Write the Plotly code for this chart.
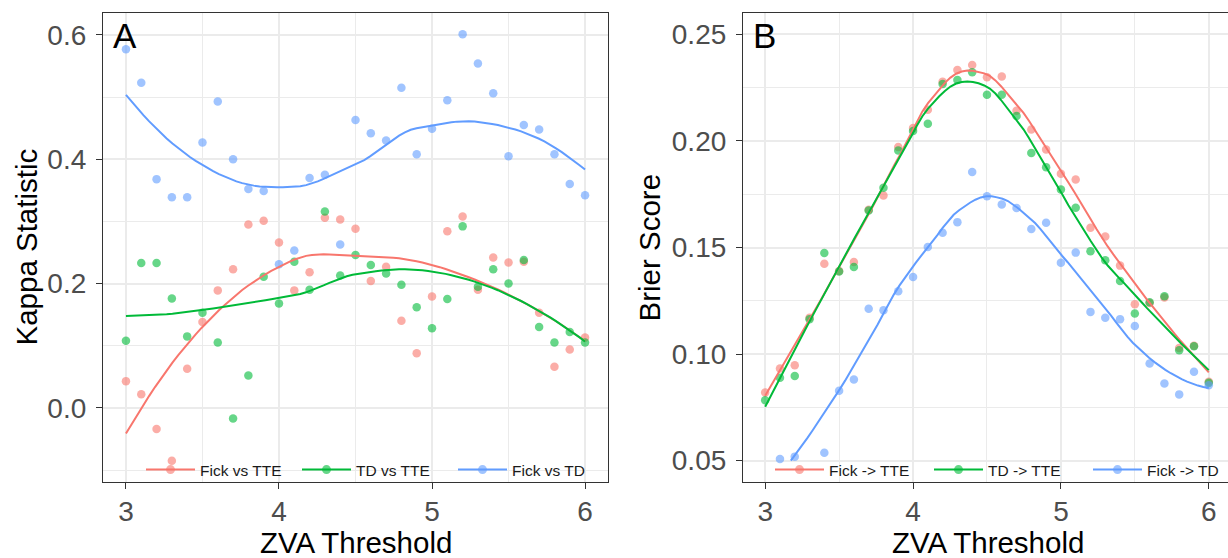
import numpy as np
import plotly.graph_objects as go

# ---------------- data ----------------
zva_threshold = [3.0, 3.1, 3.2, 3.3, 3.4, 3.5, 3.6, 3.7, 3.8, 3.9, 4.0,
                 4.1, 4.2, 4.3, 4.4, 4.5, 4.6, 4.7, 4.8, 4.9, 5.0,
                 5.1, 5.2, 5.3, 5.4, 5.5, 5.6, 5.7, 5.8, 5.9, 6.0]

# Panel A: Kappa statistic
kappa_fick_vs_tte = [0.043, 0.022, -0.034, -0.085, 0.063, 0.138, 0.189, 0.223, 0.295, 0.301, 0.266,
                     0.189, 0.218, 0.306, 0.303, 0.288, 0.204, 0.227, 0.140, 0.088, 0.179,
                     0.284, 0.308, 0.190, 0.242, 0.234, 0.235, 0.153, 0.066, 0.094, 0.113]
kappa_td_vs_tte = [0.108, 0.233, 0.233, 0.176, 0.115, 0.153, 0.105, -0.017, 0.052, 0.211, 0.168,
                   0.235, 0.190, 0.316, 0.213, 0.246, 0.230, 0.216, 0.198, 0.162, 0.128,
                   0.175, 0.292, 0.195, 0.223, 0.200, 0.238, 0.130, 0.105, 0.122, 0.105]
kappa_fick_vs_td = [0.577, 0.523, 0.368, 0.339, 0.339, 0.427, 0.493, 0.400, 0.352, 0.349, 0.231,
                    0.253, 0.370, 0.375, 0.263, 0.463, 0.442, 0.430, 0.515, 0.408, 0.449,
                    0.495, 0.601, 0.554, 0.506, 0.405, 0.455, 0.448, 0.408, 0.360, 0.342]

# Panel B: Brier score (None = below the 0.05 axis limit, dropped in the original)
brier_fick_to_tte = [0.0820, 0.0932, 0.0948, 0.1171, 0.1424, 0.1390, 0.1432, 0.1677, 0.1744, 0.1971, 0.2060,
                     0.2146, 0.2278, 0.2333, 0.2356, 0.2299, 0.2302, 0.2142, 0.2053, 0.1960, 0.1846,
                     0.1819, 0.1593, 0.1552, 0.1415, 0.1234, 0.1240, 0.1265, 0.1029, 0.1039, 0.0870]
brier_td_to_tte = [0.0784, 0.0889, 0.0897, 0.1164, 0.1474, 0.1387, 0.1409, 0.1674, 0.1780, 0.1955, 0.2046,
                   0.2080, 0.2267, 0.2286, 0.2322, 0.2217, 0.2217, 0.2117, 0.1943, 0.1877, 0.1772,
                   0.1687, 0.1482, 0.1440, 0.1343, 0.1190, 0.1243, 0.1271, 0.1018, 0.1037, 0.0865]
brier_fick_to_td = [None, 0.0508, 0.0519, None, 0.0537, 0.0828, 0.0881, 0.1213, 0.1206, 0.1295, 0.1362,
                    0.1502, 0.1569, 0.1619, 0.1854, 0.1740, 0.1702, 0.1685, 0.1587, 0.1616, 0.1429,
                    0.1476, 0.1198, 0.1171, 0.1164, 0.1132, 0.0956, 0.0862, 0.0811, 0.0917, 0.0854]

names_a = ["Fick vs TTE", "TD vs TTE", "Fick vs TD"]
names_b = ["Fick -> TTE", "TD -> TTE", "Fick -> TD"]
colors = ["#F8766D", "#00BA38", "#619CFF"]

kappa_ticks = [0.0, 0.2, 0.4, 0.6]
kappa_minor = [-0.1, 0.1, 0.3, 0.5]
brier_ticks = [0.05, 0.10, 0.15, 0.20, 0.25]
brier_minor = [0.075, 0.125, 0.175, 0.225]
brier_limits = [0.05, 0.25]
x_ticks = [3, 4, 5, 6]
x_minor = [3.5, 4.5, 5.5]

SPAN_A = 1.0
SPAN_B = 0.5


# ---------------- loess (local quadratic, tricube, kd-tree + cubic Hermite interpolation) ----------------
def _local_fit(xv, yv, v, q, span):
    d = np.abs(xv - v)
    h = np.sort(d)[min(q, len(d)) - 1] * max(1.0, span)
    u = d / h
    w = np.where(u < 1, (1 - u ** 3) ** 3, 0.0)
    X = np.column_stack([np.ones_like(xv), xv - v, (xv - v) ** 2])
    A = X.T @ (X * w[:, None])
    b = X.T @ (w * yv)
    coef = np.linalg.solve(A, b)
    return coef[0], coef[1]


def _kd_vertices(xs, fc):
    n = len(xs)
    lo0, hi0 = xs.min(), xs.max()
    mu = 0.005 * max(hi0 - lo0, 1e-10 * max(abs(lo0), abs(hi0)) + 1e-30)
    lo, hi = lo0 - mu, hi0 + mu
    verts = {lo, hi}

    def split(l, u, a, b):
        if u - l + 1 <= fc:
            return
        m = (l + u) // 2
        t = xs[m - 1]
        if t == a or t == b:
            return
        verts.add(t)
        split(l, m, a, t)
        split(m + 1, u, t, b)

    split(1, n, lo, hi)
    return np.array(sorted(verts))


def loess_curve(x, y, span=0.75, n_out=80):
    pairs = [(a, b) for a, b in zip(x, y) if b is not None]
    xv = np.array([p[0] for p in pairs], float)
    yv = np.array([p[1] for p in pairs], float)
    n = len(xv)
    q = int(np.floor(n * min(span, 1.0) + 1e-5))
    fc = int(np.floor(n * span * 0.2))
    verts = _kd_vertices(xv, fc)
    fits = np.array([_local_fit(xv, yv, v, q, span) for v in verts])
    xs = np.linspace(xv.min(), xv.max(), n_out)
    ys = []
    for xx in xs:
        i = int(np.clip(np.searchsorted(verts, xx, side="right") - 1, 0, len(verts) - 2))
        a, b = verts[i], verts[i + 1]
        h = b - a
        t = (xx - a) / h
        phi0 = (1 - t) ** 2 * (1 + 2 * t)
        phi1 = t ** 2 * (3 - 2 * t)
        psi0 = t * (1 - t) ** 2
        psi1 = -t ** 2 * (1 - t)
        ys.append(phi0 * fits[i, 0] + phi1 * fits[i + 1, 0] + (psi0 * fits[i, 1] + psi1 * fits[i + 1, 1]) * h)
    return xs, np.array(ys)


# ---------------- figure ----------------
W, H = 1228, 558
FONT = "Liberation Sans, Arial, sans-serif"


def px(v):
    return v / W


def py(v):
    return 1 - v / H


fig = go.Figure()

series_a = [kappa_fick_vs_tte, kappa_td_vs_tte, kappa_fick_vs_td]
series_b = [brier_fick_to_tte, brier_td_to_tte, brier_fick_to_td]
MSIZE = 8.5

for k in range(3):
    fig.add_trace(go.Scatter(x=zva_threshold, y=series_a[k], mode="markers", showlegend=False,
                             marker=dict(color=colors[k], size=MSIZE, opacity=0.6, line=dict(width=0)),
                             xaxis="x", yaxis="y", hoverinfo="x+y"))
for k in range(3):
    xs, ys = loess_curve(zva_threshold, series_a[k], SPAN_A)
    fig.add_trace(go.Scatter(x=xs, y=ys, mode="lines", showlegend=False,
                             line=dict(color=colors[k], width=2), xaxis="x", yaxis="y"))
    fig.add_trace(go.Scatter(x=[None], y=[None], mode="lines+markers", name=names_a[k],
                             line=dict(color=colors[k], width=2),
                             marker=dict(color=colors[k], size=9, opacity=0.6),
                             xaxis="x", yaxis="y", legend="legend"))

for k in range(3):
    fig.add_trace(go.Scatter(x=zva_threshold, y=series_b[k], mode="markers", showlegend=False,
                             marker=dict(color=colors[k], size=MSIZE, opacity=0.6, line=dict(width=0)),
                             xaxis="x2", yaxis="y2", hoverinfo="x+y"))
for k in range(3):
    xs, ys = loess_curve(zva_threshold, series_b[k], SPAN_B)
    ys_c = [float(v) if brier_limits[0] <= v <= brier_limits[1] else None for v in ys]
    fig.add_trace(go.Scatter(x=xs, y=ys_c, mode="lines", showlegend=False,
                             line=dict(color=colors[k], width=2), xaxis="x2", yaxis="y2"))
    fig.add_trace(go.Scatter(x=[None], y=[None], mode="lines+markers", name=names_b[k],
                             line=dict(color=colors[k], width=2),
                             marker=dict(color=colors[k], size=9, opacity=0.6),
                             xaxis="x2", yaxis="y2", legend="legend2"))

# y range of panel A like ggplot (data range + 5%)
all_a = [v for s in series_a for v in s]
ya_min, ya_max = min(all_a), max(all_a)
pad = 0.05 * (ya_max - ya_min)
ya_range = [ya_min - pad, ya_max + pad]
bpad = 0.05 * (brier_limits[1] - brier_limits[0])
yb_range = [brier_limits[0] - bpad, brier_limits[1] + bpad]

GRID = "#EBEBEB"
AX = "#333333"
TICKFONT = dict(family=FONT, size=28, color="#4D4D4D")

common_x = dict(tickmode="array", tickvals=x_ticks, ticktext=[str(v) for v in x_ticks],
                ticks="outside", ticklen=6, tickwidth=1.2, tickcolor=AX, tickfont=TICKFONT,
                ticklabelstandoff=-2,
                showline=True, linecolor=AX, linewidth=1.2, mirror=True,
                showgrid=True, gridcolor=GRID, gridwidth=1.6, zeroline=False,
                minor=dict(tickmode="array", tickvals=x_minor, showgrid=True, gridcolor=GRID,
                           gridwidth=0.8, ticks=""))

common_y = dict(tickmode="array", ticks="outside", ticklen=6, tickwidth=1.2, tickcolor=AX,
                tickfont=TICKFONT, ticklabelstandoff=4,
                showline=True, linecolor=AX, linewidth=1.2,
                showgrid=True, gridcolor=GRID, gridwidth=1.6, zeroline=False)

LEGFONT = dict(family=FONT, size=15.5, color="#1a1a1a")
TITLEFONT = dict(family=FONT, size=29.5, color="black")

fig.update_layout(
    width=W, height=H, margin=dict(l=0, r=0, t=0, b=0, autoexpand=False),
    paper_bgcolor="white", plot_bgcolor="white",
    font=dict(family=FONT),
    xaxis=dict(domain=[px(103), px(608)], range=[2.85, 6.15], anchor="y", **common_x),
    xaxis2=dict(domain=[px(743), 1.0], range=[2.85, 6.13], anchor="y2", **common_x),
    yaxis=dict(domain=[py(482), py(13)], range=ya_range, anchor="x", mirror=True,
               tickvals=kappa_ticks, ticktext=[f"{v:.1f}" for v in kappa_ticks],
               minor=dict(tickmode="array", tickvals=kappa_minor, showgrid=True, gridcolor=GRID,
                          gridwidth=0.8, ticks=""), **common_y),
    yaxis2=dict(domain=[py(482), py(13)], range=yb_range, anchor="x2", mirror=False,
                tickvals=brier_ticks, ticktext=[f"{v:.2f}" for v in brier_ticks],
                minor=dict(tickmode="array", tickvals=brier_minor, showgrid=True, gridcolor=GRID,
                           gridwidth=0.8, ticks=""), **common_y),
    legend=dict(orientation="h", x=px(141), y=py(470), xanchor="left", yanchor="middle",
                bgcolor="rgba(0,0,0,0)", font=LEGFONT, itemwidth=49,
                entrywidth=92, entrywidthmode="pixels", traceorder="normal"),
    legend2=dict(orientation="h", x=px(770), y=py(470), xanchor="left", yanchor="middle",
                 bgcolor="rgba(0,0,0,0)", font=LEGFONT, itemwidth=49,
                 entrywidth=95, entrywidthmode="pixels", traceorder="normal"),
    annotations=[
        dict(text="A", x=px(111), y=py(14), xref="paper", yref="paper", xanchor="left", yanchor="top",
             showarrow=False, font=dict(family=FONT, size=35, color="black")),
        dict(text="B", x=px(751), y=py(14), xref="paper", yref="paper", xanchor="left", yanchor="top",
             showarrow=False, font=dict(family=FONT, size=35, color="black")),
        dict(text="ZVA Threshold", x=px(355.5), y=py(524), xref="paper", yref="paper",
             xanchor="center", yanchor="top", showarrow=False, font=TITLEFONT),
        dict(text="ZVA Threshold", x=px(988), y=py(524), xref="paper", yref="paper",
             xanchor="center", yanchor="top", showarrow=False, font=TITLEFONT),
        dict(text="Kappa Statistic", x=px(26), y=py(247.5), xref="paper", yref="paper",
             xanchor="center", yanchor="middle", textangle=-90, showarrow=False, font=TITLEFONT),
        dict(text="Brier Score", x=px(649), y=py(247.5), xref="paper", yref="paper",
             xanchor="center", yanchor="middle", textangle=-90, showarrow=False, font=TITLEFONT),
    ],
)

fig.write_html("out.html", config={"displayModeBar": False},
               post_script="document.body.style.margin='0px';document.body.style.overflow='hidden';")
